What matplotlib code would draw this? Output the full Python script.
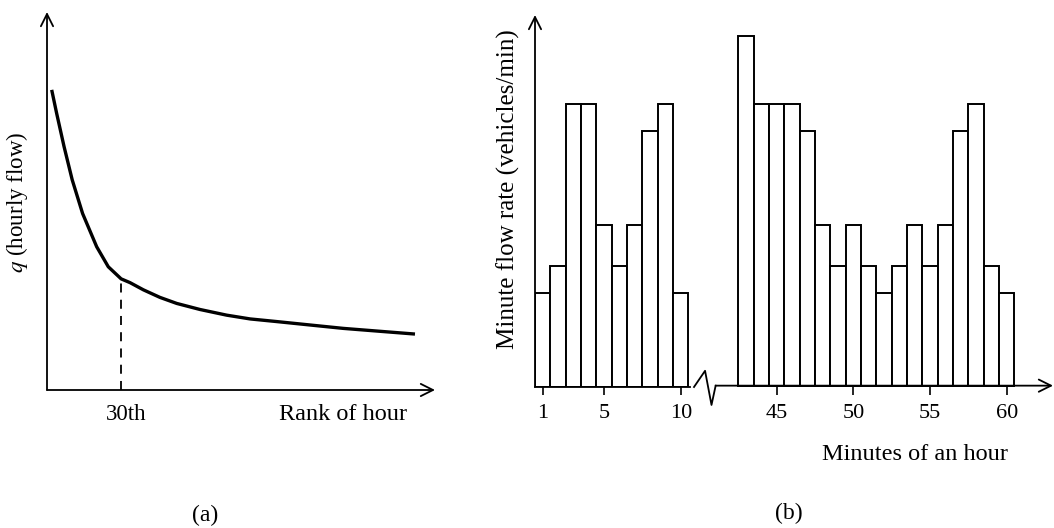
"""Two-panel traffic flow figure.

(a) hourly flow ranked curve with the 30th-hour marker
(b) minute-by-minute flow rate histogram with a broken time axis
"""
import matplotlib
matplotlib.use("Agg")
import matplotlib.pyplot as plt
import numpy as np

plt.rcParams["font.family"] = ["Liberation Serif", "DejaVu Serif"]
plt.rcParams["mathtext.fontset"] = "stix"

# ----- (a) ranked hourly flow -----
RANK = [1.9, 3.9, 6.9, 10.2, 14.4, 20.1, 24.8, 30.0, 33.6, 39.0,
        45.7, 52.5, 61.9, 72.7, 82.2, 93.0, 106.4, 119.9, 133.4, 148.9]
HOURLY_FLOW = [79.4, 73.2, 64.4, 55.6, 46.7, 37.9, 32.6, 29.4, 28.4, 26.5,
               24.5, 22.9, 21.3, 19.8, 18.8, 18.1, 17.2, 16.3, 15.6, 14.8]
DESIGN_RANK = 30.0

# ----- (b) minute flow rates, two stretches of the hour -----
MIN_EARLY = [1, 2, 3, 4, 5, 6, 7, 8, 9, 10]
RATE_EARLY = [7, 9, 21, 21, 12, 9, 12, 19, 21, 7]
MIN_LATE = [43, 44, 45, 46, 47, 48, 49, 50, 51, 52,
            53, 54, 55, 56, 57, 58, 59, 60]
RATE_LATE = [26, 21, 21, 21, 19, 12, 9, 12, 9, 7,
             9, 12, 9, 12, 19, 21, 9, 7]
TICKS_EARLY = [1, 5, 10]
TICKS_LATE = [45, 50, 55, 60]

LATE_SHIFT = 28.76  # minutes removed by the axis break

ARROW = dict(arrowstyle="->", lw=1.3, color="black", mutation_scale=22,
             shrinkA=0, shrinkB=0)


def main() -> None:
    fig = plt.figure(figsize=(10.54, 5.28), dpi=100)

    def px(x, y):
        return x / 1054, 1 - y / 528

    # ── (a) ──────────────────────────────────────────────────────────
    ax1 = fig.add_axes([47 / 1054, 1 - 390 / 528, 388 / 1054, 378 / 528])
    ax1.set_xlim(0, 157)
    ax1.set_ylim(0, 100)
    ax1.axis("off")

    ax1.plot(RANK, HOURLY_FLOW, color="black", lw=2.4,
             solid_capstyle="butt", solid_joinstyle="round")
    knee = HOURLY_FLOW[RANK.index(DESIGN_RANK)]
    ax1.plot([DESIGN_RANK, DESIGN_RANK], [0, knee], color="black",
             lw=1.3, ls=(0, (5, 4)))

    ax1.annotate("", xy=(0, 1), xytext=(0, 0), xycoords="axes fraction",
                 arrowprops=ARROW, annotation_clip=False)
    ax1.annotate("", xy=(1, 0), xytext=(0, 0), xycoords="axes fraction",
                 arrowprops=ARROW, annotation_clip=False)

    fig.text(*px(126, 414), "30th", ha="center", va="center", fontsize=16.5)
    fig.text(*px(343, 414), "Rank of hour", ha="center", va="center", fontsize=17.5)
    fig.text(*px(17, 202), r"$q$ (hourly flow)", rotation=90,
             ha="center", va="center", fontsize=16.6)
    fig.text(*px(205, 515), "(a)", ha="center", va="center", fontsize=17)

    # ── (b) ──────────────────────────────────────────────────────────
    ax2 = fig.add_axes([535 / 1054, 1 - 387 / 528, 518 / 1054, 372 / 528])
    ax2.set_xlim(0.5, 34.25)
    ax2.set_ylim(0, 27.56)
    for s in ax2.spines.values():
        s.set_visible(False)

    late_pos = np.array(MIN_LATE) - LATE_SHIFT
    bar_kw = dict(width=1.0, color="white", edgecolor="black", linewidth=1.4)
    ax2.bar(MIN_EARLY, RATE_EARLY, **bar_kw)
    ax2.bar(late_pos, RATE_LATE, **bar_kw)

    ax2.set_xticks(TICKS_EARLY + [t - LATE_SHIFT for t in TICKS_LATE])
    ax2.set_xticklabels([str(t) for t in TICKS_EARLY + TICKS_LATE], fontsize=16)
    ax2.tick_params(axis="x", direction="out", length=6, width=1.2, pad=6)
    ax2.set_yticks([])

    # x axis: first stretch, break mark, then second stretch with arrow
    brk0 = MIN_EARLY[-1] + 0.62
    ax2.plot([0.5, brk0], [0, 0], color="black", lw=1.3, clip_on=False)
    ax2.plot([brk0 + 0.24, brk0 + 0.96, brk0 + 1.38, brk0 + 1.65],
             [0, 1.2, -1.33, 0.1], color="black", lw=1.3, clip_on=False)
    ax2.annotate("", xy=(34.25, 0.1), xytext=(brk0 + 1.65, 0.1),
                 arrowprops=ARROW, annotation_clip=False)
    ax2.annotate("", xy=(0.5, 27.56), xytext=(0.5, 0),
                 arrowprops=ARROW, annotation_clip=False)

    fig.text(*px(508, 189), "Minute flow rate (vehicles/min)",
             rotation=90, ha="center", va="center", fontsize=18)
    fig.text(*px(915, 454), "Minutes of an hour", ha="center",
             va="center", fontsize=17.5)
    fig.text(*px(789, 513), "(b)", ha="center", va="center", fontsize=17)

    fig.savefig("out.png", dpi=100)


if __name__ == "__main__":
    main()
